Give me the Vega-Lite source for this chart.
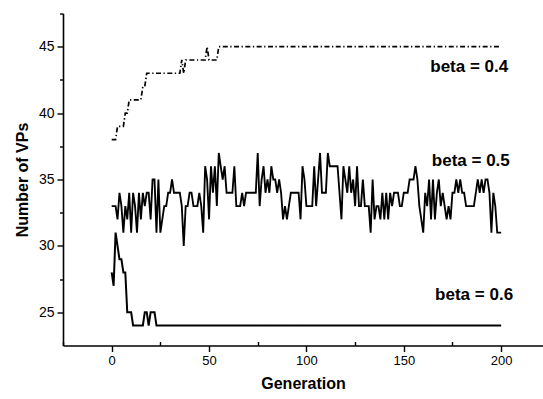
{
 "$schema": "https://vega.github.io/schema/vega-lite/v6.json",
 "width": 480, "height": 332,
 "autosize": {"type": "none"},
 "padding": {"left": 63, "top": 13.5, "right": 0, "bottom": 53.5},
 "background": "white",
 "config": {"view": {"stroke": null}, "font": "Liberation Sans",
   "axis": {"domainColor": "black", "tickColor": "black", "labelColor": "black", "titleColor": "black", "grid": false, "domainWidth": 1.6, "tickWidth": 1.4, "labelFont": "Liberation Sans", "titleFont": "Liberation Sans"}},
 "datasets": {
  "labels": [
   {"g": 163.6, "v": 43.1, "t": "beta = 0.4"},
   {"g": 164.4, "v": 36.05, "t": "beta = 0.5"},
   {"g": 166.1, "v": 25.92, "t": "beta = 0.6"}
  ],
  "series": [
{"g":0,"b04":38,"b05":33,"b06":28},{"g":1,"b04":38,"b05":33,"b06":27},{"g":2,"b04":38,"b05":33,"b06":31},{"g":3,"b04":39,"b05":32,"b06":30},{"g":4,"b04":39,"b05":34,"b06":29},{"g":5,"b04":39,"b05":33,"b06":29},{"g":6,"b04":39,"b05":31,"b06":28},{"g":7,"b04":40,"b05":33,"b06":28},{"g":8,"b04":40,"b05":32,"b06":25},{"g":9,"b04":41,"b05":34,"b06":25},
{"g":10,"b04":41,"b05":31,"b06":25},{"g":11,"b04":41,"b05":34,"b06":24},{"g":12,"b04":41,"b05":33,"b06":24},{"g":13,"b04":41,"b05":31,"b06":24},{"g":14,"b04":41,"b05":34,"b06":24},{"g":15,"b04":41,"b05":32,"b06":24},{"g":16,"b04":42,"b05":34,"b06":24},{"g":17,"b04":42,"b05":33,"b06":25},{"g":18,"b04":43,"b05":34,"b06":25},{"g":19,"b04":43,"b05":34,"b06":24},
{"g":20,"b04":43,"b05":32,"b06":25},{"g":21,"b04":43,"b05":35,"b06":25},{"g":22,"b04":43,"b05":35,"b06":25},{"g":23,"b04":43,"b05":31,"b06":24},{"g":24,"b04":43,"b05":35,"b06":24},{"g":25,"b04":43,"b05":31,"b06":24},{"g":26,"b04":43,"b05":32,"b06":24},{"g":27,"b04":43,"b05":33,"b06":24},{"g":28,"b04":43,"b05":33,"b06":24},{"g":29,"b04":43,"b05":34,"b06":24},
{"g":30,"b04":43,"b05":34,"b06":24},{"g":31,"b04":43,"b05":35,"b06":24},{"g":32,"b04":43,"b05":34,"b06":24},{"g":33,"b04":43,"b05":34,"b06":24},{"g":34,"b04":43,"b05":34,"b06":24},{"g":35,"b04":43,"b05":34,"b06":24},{"g":36,"b04":44,"b05":33,"b06":24},{"g":37,"b04":43,"b05":30,"b06":24},{"g":38,"b04":44,"b05":33,"b06":24},{"g":39,"b04":44,"b05":33,"b06":24},
{"g":40,"b04":44,"b05":34,"b06":24},{"g":41,"b04":44,"b05":34,"b06":24},{"g":42,"b04":44,"b05":33,"b06":24},{"g":43,"b04":44,"b05":33,"b06":24},{"g":44,"b04":44,"b05":33,"b06":24},{"g":45,"b04":44,"b05":34,"b06":24},{"g":46,"b04":44,"b05":33,"b06":24},{"g":47,"b04":44,"b05":31,"b06":24},{"g":48,"b04":44,"b05":36,"b06":24},{"g":49,"b04":45,"b05":35,"b06":24},
{"g":50,"b04":44,"b05":32,"b06":24},{"g":51,"b04":44,"b05":36,"b06":24},{"g":52,"b04":44,"b05":34,"b06":24},{"g":53,"b04":44,"b05":36,"b06":24},{"g":54,"b04":44,"b05":33,"b06":24},{"g":55,"b04":45,"b05":37,"b06":24},{"g":56,"b04":45,"b05":36,"b06":24},{"g":57,"b04":45,"b05":35,"b06":24},{"g":58,"b04":45,"b05":36,"b06":24},{"g":59,"b04":45,"b05":34,"b06":24},
{"g":60,"b04":45,"b05":34,"b06":24},{"g":61,"b04":45,"b05":34,"b06":24},{"g":62,"b04":45,"b05":34,"b06":24},{"g":63,"b04":45,"b05":36,"b06":24},{"g":64,"b04":45,"b05":33,"b06":24},{"g":65,"b04":45,"b05":33,"b06":24},{"g":66,"b04":45,"b05":33,"b06":24},{"g":67,"b04":45,"b05":34,"b06":24},{"g":68,"b04":45,"b05":33,"b06":24},{"g":69,"b04":45,"b05":34,"b06":24},
{"g":70,"b04":45,"b05":34,"b06":24},{"g":71,"b04":45,"b05":34,"b06":24},{"g":72,"b04":45,"b05":34,"b06":24},{"g":73,"b04":45,"b05":34,"b06":24},{"g":74,"b04":45,"b05":34,"b06":24},{"g":75,"b04":45,"b05":37,"b06":24},{"g":76,"b04":45,"b05":33,"b06":24},{"g":77,"b04":45,"b05":35,"b06":24},{"g":78,"b04":45,"b05":36,"b06":24},{"g":79,"b04":45,"b05":34,"b06":24},
{"g":80,"b04":45,"b05":35,"b06":24},{"g":81,"b04":45,"b05":34,"b06":24},{"g":82,"b04":45,"b05":36,"b06":24},{"g":83,"b04":45,"b05":35,"b06":24},{"g":84,"b04":45,"b05":35,"b06":24},{"g":85,"b04":45,"b05":34,"b06":24},{"g":86,"b04":45,"b05":35,"b06":24},{"g":87,"b04":45,"b05":34,"b06":24},{"g":88,"b04":45,"b05":32,"b06":24},{"g":89,"b04":45,"b05":33,"b06":24},
{"g":90,"b04":45,"b05":32,"b06":24},{"g":91,"b04":45,"b05":33,"b06":24},{"g":92,"b04":45,"b05":34,"b06":24},{"g":93,"b04":45,"b05":34,"b06":24},{"g":94,"b04":45,"b05":34,"b06":24},{"g":95,"b04":45,"b05":34,"b06":24},{"g":96,"b04":45,"b05":34,"b06":24},{"g":97,"b04":45,"b05":32,"b06":24},{"g":98,"b04":45,"b05":36,"b06":24},{"g":99,"b04":45,"b05":35,"b06":24},
{"g":100,"b04":45,"b05":33,"b06":24},{"g":101,"b04":45,"b05":33,"b06":24},{"g":102,"b04":45,"b05":33,"b06":24},{"g":103,"b04":45,"b05":33,"b06":24},{"g":104,"b04":45,"b05":36,"b06":24},{"g":105,"b04":45,"b05":33,"b06":24},{"g":106,"b04":45,"b05":35,"b06":24},{"g":107,"b04":45,"b05":37,"b06":24},{"g":108,"b04":45,"b05":34,"b06":24},{"g":109,"b04":45,"b05":34,"b06":24},
{"g":110,"b04":45,"b05":34,"b06":24},{"g":111,"b04":45,"b05":37,"b06":24},{"g":112,"b04":45,"b05":36,"b06":24},{"g":113,"b04":45,"b05":36,"b06":24},{"g":114,"b04":45,"b05":36,"b06":24},{"g":115,"b04":45,"b05":36,"b06":24},{"g":116,"b04":45,"b05":36,"b06":24},{"g":117,"b04":45,"b05":34,"b06":24},{"g":118,"b04":45,"b05":32,"b06":24},{"g":119,"b04":45,"b05":36,"b06":24},
{"g":120,"b04":45,"b05":35,"b06":24},{"g":121,"b04":45,"b05":34,"b06":24},{"g":122,"b04":45,"b05":36,"b06":24},{"g":123,"b04":45,"b05":34,"b06":24},{"g":124,"b04":45,"b05":35,"b06":24},{"g":125,"b04":45,"b05":33,"b06":24},{"g":126,"b04":45,"b05":36,"b06":24},{"g":127,"b04":45,"b05":33,"b06":24},{"g":128,"b04":45,"b05":33,"b06":24},{"g":129,"b04":45,"b05":35,"b06":24},
{"g":130,"b04":45,"b05":33,"b06":24},{"g":131,"b04":45,"b05":33,"b06":24},{"g":132,"b04":45,"b05":33,"b06":24},{"g":133,"b04":45,"b05":31,"b06":24},{"g":134,"b04":45,"b05":35,"b06":24},{"g":135,"b04":45,"b05":32,"b06":24},{"g":136,"b04":45,"b05":33,"b06":24},{"g":137,"b04":45,"b05":33,"b06":24},{"g":138,"b04":45,"b05":32,"b06":24},{"g":139,"b04":45,"b05":34,"b06":24},
{"g":140,"b04":45,"b05":32,"b06":24},{"g":141,"b04":45,"b05":34,"b06":24},{"g":142,"b04":45,"b05":32,"b06":24},{"g":143,"b04":45,"b05":34,"b06":24},{"g":144,"b04":45,"b05":33,"b06":24},{"g":145,"b04":45,"b05":34,"b06":24},{"g":146,"b04":45,"b05":34,"b06":24},{"g":147,"b04":45,"b05":34,"b06":24},{"g":148,"b04":45,"b05":33,"b06":24},{"g":149,"b04":45,"b05":33,"b06":24},
{"g":150,"b04":45,"b05":34,"b06":24},{"g":151,"b04":45,"b05":34,"b06":24},{"g":152,"b04":45,"b05":34,"b06":24},{"g":153,"b04":45,"b05":35,"b06":24},{"g":154,"b04":45,"b05":35,"b06":24},{"g":155,"b04":45,"b05":35,"b06":24},{"g":156,"b04":45,"b05":36,"b06":24},{"g":157,"b04":45,"b05":35,"b06":24},{"g":158,"b04":45,"b05":33,"b06":24},{"g":159,"b04":45,"b05":32,"b06":24},
{"g":160,"b04":45,"b05":31,"b06":24},{"g":161,"b04":45,"b05":34,"b06":24},{"g":162,"b04":45,"b05":33,"b06":24},{"g":163,"b04":45,"b05":35,"b06":24},{"g":164,"b04":45,"b05":32,"b06":24},{"g":165,"b04":45,"b05":35,"b06":24},{"g":166,"b04":45,"b05":32,"b06":24},{"g":167,"b04":45,"b05":34,"b06":24},{"g":168,"b04":45,"b05":35,"b06":24},{"g":169,"b04":45,"b05":33,"b06":24},
{"g":170,"b04":45,"b05":34,"b06":24},{"g":171,"b04":45,"b05":33,"b06":24},{"g":172,"b04":45,"b05":32,"b06":24},{"g":173,"b04":45,"b05":33,"b06":24},{"g":174,"b04":45,"b05":32,"b06":24},{"g":175,"b04":45,"b05":34,"b06":24},{"g":176,"b04":45,"b05":34,"b06":24},{"g":177,"b04":45,"b05":35,"b06":24},{"g":178,"b04":45,"b05":34,"b06":24},{"g":179,"b04":45,"b05":35,"b06":24},
{"g":180,"b04":45,"b05":34,"b06":24},{"g":181,"b04":45,"b05":34,"b06":24},{"g":182,"b04":45,"b05":33,"b06":24},{"g":183,"b04":45,"b05":33,"b06":24},{"g":184,"b04":45,"b05":33,"b06":24},{"g":185,"b04":45,"b05":33,"b06":24},{"g":186,"b04":45,"b05":33,"b06":24},{"g":187,"b04":45,"b05":34,"b06":24},{"g":188,"b04":45,"b05":35,"b06":24},{"g":189,"b04":45,"b05":34,"b06":24},
{"g":190,"b04":45,"b05":35,"b06":24},{"g":191,"b04":45,"b05":34,"b06":24},{"g":192,"b04":45,"b05":35,"b06":24},{"g":193,"b04":45,"b05":35,"b06":24},{"g":194,"b04":45,"b05":34,"b06":24},{"g":195,"b04":45,"b05":31,"b06":24},{"g":196,"b04":45,"b05":34,"b06":24},{"g":197,"b04":45,"b05":33,"b06":24},{"g":198,"b04":45,"b05":31,"b06":24},{"g":199,"b04":45,"b05":31,"b06":24},
{"g":200,"b04":45,"b05":31,"b06":24}
  ]
 },
 "layer": [
  {
   "data": {"name": "series"},
   "transform": [{"fold": ["b04", "b05", "b06"], "as": ["s", "v"]}],
   "mark": {"type": "line", "color": "black", "strokeJoin": "miter", "strokeMiterLimit": 3},
   "encoding": {
    "x": {"field": "g", "type": "quantitative", "scale": {"domain": [-25, 221.5], "nice": false, "zero": false},
      "axis": {"orient": "bottom", "values": [0, 50, 100, 150, 200], "title": "Generation", "titleFontSize": 16, "titleFontWeight": "bold", "labelFontSize": 13, "tickSize": 6, "labelPadding": 3, "titlePadding": 8, "labelFlush": false}},
    "y": {"field": "v", "type": "quantitative", "scale": {"domain": [22.5, 47.5], "nice": false, "zero": false},
      "axis": {"orient": "left", "values": [25, 30, 35, 40, 45], "title": "Number of VPs", "titleFontSize": 16, "titleFontWeight": "bold", "labelFontSize": 14, "tickSize": 6, "labelPadding": 3, "titlePadding": 8}},
    "detail": {"field": "s"},
    "strokeDash": {"field": "s", "type": "nominal", "scale": {"domain": ["b04", "b05", "b06"], "range": [[5, 2.5, 1.3, 2.5], [1, 0], [1, 0]]}, "legend": null},
    "strokeWidth": {"field": "s", "type": "ordinal", "scale": {"domain": ["b04", "b05", "b06"], "range": [1.7, 2, 2.8]}, "legend": null}
   }
  },
  {
   "data": {"name": "labels"},
   "mark": {"type": "text", "align": "left", "baseline": "alphabetic", "fontSize": 17, "fontWeight": "bold", "font": "Liberation Sans", "color": "black"},
   "encoding": {
    "x": {"field": "g", "type": "quantitative", "scale": {"domain": [-25, 221.5], "nice": false, "zero": false},
      "axis": {"orient": "bottom", "values": [-25, 25, 75, 125, 175], "labels": false, "domain": false, "title": null, "tickSize": -4}},
    "y": {"field": "v", "type": "quantitative", "scale": {"domain": [22.5, 47.5], "nice": false, "zero": false},
      "axis": {"orient": "left", "values": [27.5, 32.5, 37.5, 42.5, 47.5], "labels": false, "domain": false, "title": null, "tickSize": 3.5}},
    "text": {"field": "t"}
   }
  }
 ],
 "resolve": {"axis": {"x": "independent", "y": "independent"}}
}
